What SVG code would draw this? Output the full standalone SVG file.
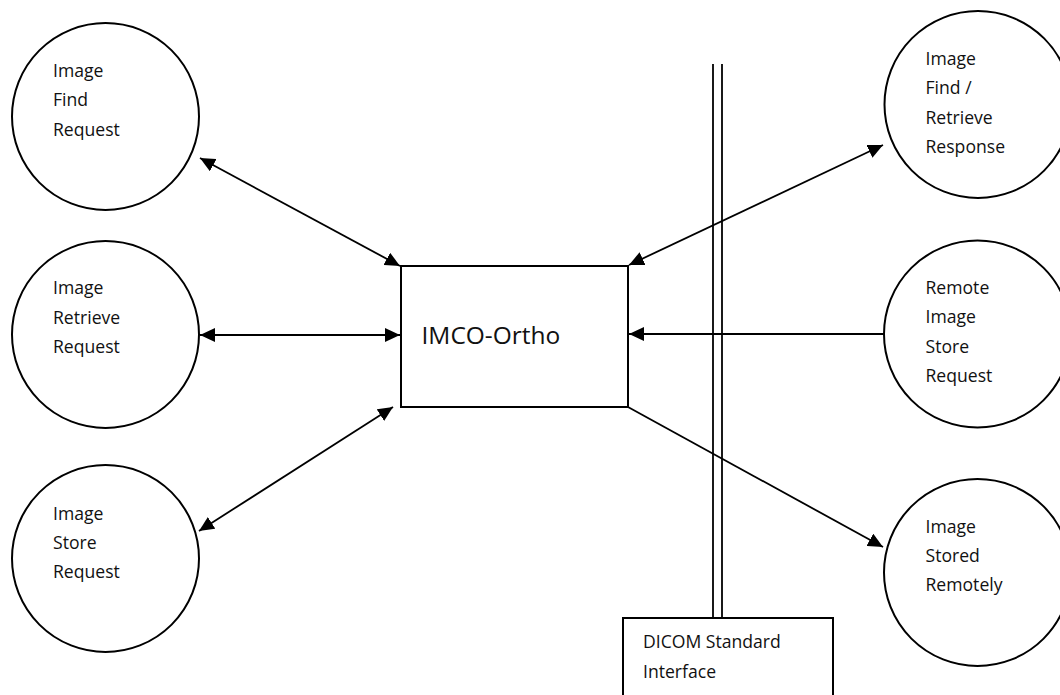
<svg xmlns="http://www.w3.org/2000/svg" width="1060" height="695" viewBox="0 0 1060 695">
<style>
.node{fill:#fff;stroke:#000;stroke-width:2}
.lbl{font-family:"Open Sans","Noto Sans","Liberation Sans",sans-serif;font-size:17.6px;fill:#111}
.big{font-size:24.5px}
.conn{stroke:#000;stroke-width:1.8;fill:none}
.bus{stroke:#000;stroke-width:1.8;fill:none}
</style>
<defs>
<marker id="ah" markerUnits="userSpaceOnUse" markerWidth="16" markerHeight="14" refX="15" refY="7" orient="auto-start-reverse" viewBox="0 0 16 14">
<path d="M0,0 L15,7 L0,14 z" fill="#000"/>
</marker>
</defs>
<rect width="1060" height="695" fill="#fff"/>

<g id="bus">
<line class="bus" x1="713" y1="64" x2="713" y2="618"/>
<line class="bus" x1="722" y1="64" x2="722" y2="618"/>
</g>

<g id="find-request">
<circle class="node" cx="105.5" cy="116.5" r="93.5"/>
<text class="lbl" x="53" y="77">Image</text>
<text class="lbl" x="53" y="106">Find</text>
<text class="lbl" x="53" y="135.5">Request</text>
</g>

<g id="retrieve-request">
<circle class="node" cx="105.5" cy="334.5" r="93.5"/>
<text class="lbl" x="53" y="294">Image</text>
<text class="lbl" x="53" y="323.5">Retrieve</text>
<text class="lbl" x="53" y="352.5">Request</text>
</g>

<g id="store-request">
<circle class="node" cx="105.5" cy="558.5" r="93.5"/>
<text class="lbl" x="53" y="520">Image</text>
<text class="lbl" x="53" y="549">Store</text>
<text class="lbl" x="53" y="578">Request</text>
</g>

<g id="imco-ortho">
<rect class="node" x="401" y="266" width="227" height="141"/>
<text class="lbl big" x="421.5" y="343.5">IMCO-Ortho</text>
</g>

<g id="find-retrieve-response">
<circle class="node" cx="978" cy="104.5" r="93.5"/>
<text class="lbl" x="925.5" y="65">Image</text>
<text class="lbl" x="925.5" y="94">Find /</text>
<text class="lbl" x="925.5" y="124">Retrieve</text>
<text class="lbl" x="925.5" y="153">Response</text>
</g>

<g id="remote-store-request">
<circle class="node" cx="977.5" cy="334" r="93.5"/>
<text class="lbl" x="925.5" y="294">Remote</text>
<text class="lbl" x="925.5" y="323">Image</text>
<text class="lbl" x="925.5" y="352.5">Store</text>
<text class="lbl" x="925.5" y="381.5">Request</text>
</g>

<g id="stored-remotely">
<circle class="node" cx="977.5" cy="572.5" r="93.5"/>
<text class="lbl" x="925.5" y="533">Image</text>
<text class="lbl" x="925.5" y="562">Stored</text>
<text class="lbl" x="925.5" y="591">Remotely</text>
</g>

<g id="dicom-interface">
<rect class="node" x="623" y="618" width="210" height="90"/>
<text class="lbl" x="643" y="648">DICOM Standard</text>
<text class="lbl" x="643" y="677.5">Interface</text>
</g>

<g id="connectors">
<line class="conn" x1="200" y1="158" x2="400" y2="266" marker-start="url(#ah)" marker-end="url(#ah)"/>
<line class="conn" x1="200" y1="335" x2="400" y2="335" marker-start="url(#ah)" marker-end="url(#ah)"/>
<line class="conn" x1="199" y1="531" x2="393" y2="407" marker-start="url(#ah)" marker-end="url(#ah)"/>
<line class="conn" x1="629" y1="265" x2="883" y2="145" marker-start="url(#ah)" marker-end="url(#ah)"/>
<line class="conn" x1="884" y1="334" x2="629" y2="334" marker-end="url(#ah)"/>
<line class="conn" x1="628" y1="407" x2="883" y2="547" marker-end="url(#ah)"/>
</g>
</svg>
